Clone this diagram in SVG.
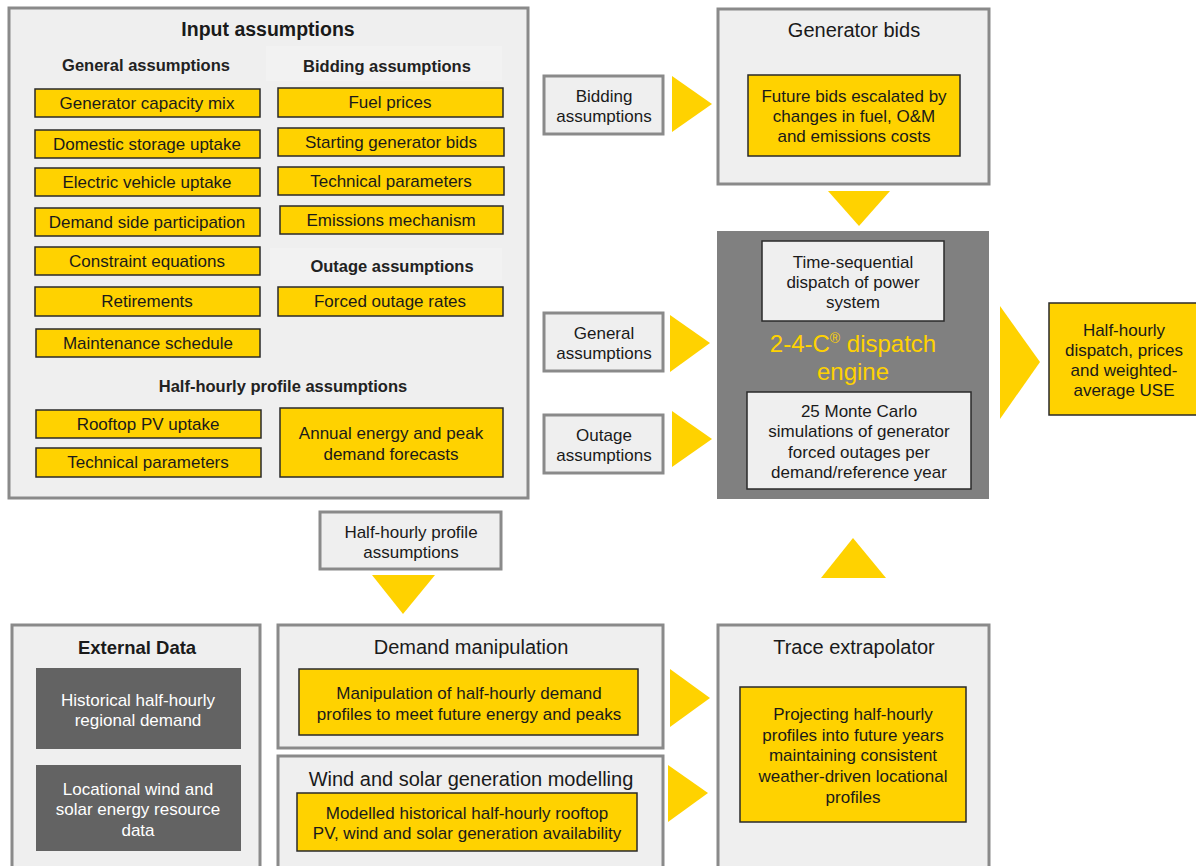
<svg xmlns="http://www.w3.org/2000/svg" width="1196" height="866" viewBox="0 0 1196 866">
<style>
.cont{fill:#efefef;stroke:#8a8a8a;stroke-width:3}
.small{fill:#efefef;stroke:#8a8a8a;stroke-width:3}
.yel{fill:#ffd200;stroke:#2a2a2a;stroke-width:1.5}
.inner{fill:#efefef;stroke:#2a2a2a;stroke-width:1.5}
.dark{fill:#636363}
.arr{fill:#ffd200}
text{font-family:"Liberation Sans",Arial,sans-serif;font-size:17px;fill:#1a1a1a;text-anchor:middle}
.t{font-size:20px}
.h{font-size:16.5px;font-weight:bold;fill:#222}
.ttl{font-size:19.5px;font-weight:bold}
.w{fill:#ffffff}
.eng{font-size:24px;fill:#ffd200}
</style>
<g id="input-assumptions">
<rect class="cont" x="9" y="8" width="519" height="490"/>
<rect x="266" y="46" width="236" height="35" fill="#f2f2f2"/>
<rect x="270" y="248" width="232" height="32" fill="#f2f2f2"/>
<text class="ttl" x="268" y="36">Input assumptions</text>
<text class="h" x="146" y="71">General assumptions</text>
<text class="h" x="387" y="72">Bidding assumptions</text>
<text class="h" x="392" y="272">Outage assumptions</text>
<text class="h" x="283" y="392">Half-hourly profile assumptions</text>
<g id="gen-cap"><rect class="yel" x="35" y="89" width="225" height="28"/><text x="147" y="109">Generator capacity mix</text></g>
<g id="dom-storage"><rect class="yel" x="35" y="130" width="225" height="28"/><text x="147" y="150">Domestic storage uptake</text></g>
<g id="ev"><rect class="yel" x="35" y="168" width="225" height="28"/><text x="147" y="188">Electric vehicle uptake</text></g>
<g id="dsp"><rect class="yel" x="35" y="208" width="225" height="28"/><text x="147" y="228">Demand side participation</text></g>
<g id="constraint"><rect class="yel" x="35" y="247" width="225" height="28"/><text x="147" y="267">Constraint equations</text></g>
<g id="retire"><rect class="yel" x="35" y="287" width="225" height="29"/><text x="147" y="307">Retirements</text></g>
<g id="maint"><rect class="yel" x="36" y="329" width="224" height="28"/><text x="148" y="349">Maintenance schedule</text></g>
<g id="fuel"><rect class="yel" x="278" y="88" width="225" height="29"/><text x="390" y="108">Fuel prices</text></g>
<g id="start-bids"><rect class="yel" x="278" y="128" width="226" height="28"/><text x="391" y="148">Starting generator bids</text></g>
<g id="tech1"><rect class="yel" x="278" y="167" width="226" height="28"/><text x="391" y="187">Technical parameters</text></g>
<g id="emis"><rect class="yel" x="280" y="206" width="223" height="28"/><text x="391" y="226">Emissions mechanism</text></g>
<g id="forced"><rect class="yel" x="278" y="287" width="225" height="29"/><text x="390" y="307">Forced outage rates</text></g>
<g id="rooftop"><rect class="yel" x="36" y="410" width="225" height="28"/><text x="148" y="430">Rooftop PV uptake</text></g>
<g id="tech2"><rect class="yel" x="36" y="448" width="225" height="29"/><text x="148" y="468">Technical parameters</text></g>
<g id="annual"><rect class="yel" x="280" y="408" width="223" height="69"/><text x="391" y="439">Annual energy and peak</text><text x="391" y="460">demand forecasts</text></g>
</g>
<g id="bidding-small"><rect class="small" x="544" y="76" width="119" height="58"/><text x="604" y="102">Bidding</text><text x="604" y="122">assumptions</text></g>
<g id="general-small"><rect class="small" x="544" y="313" width="119" height="58"/><text x="604" y="339">General</text><text x="604" y="359">assumptions</text></g>
<g id="outage-small"><rect class="small" x="544" y="415" width="119" height="58"/><text x="604" y="441">Outage</text><text x="604" y="461">assumptions</text></g>
<g id="generator-bids">
<rect class="cont" x="718" y="9" width="271" height="175"/>
<text class="t" x="854" y="37">Generator bids</text>
<rect class="yel" x="748" y="75" width="212" height="81"/>
<text x="854" y="102">Future bids escalated by</text><text x="854" y="122">changes in fuel, O&amp;M</text><text x="854" y="142">and emissions costs</text>
</g>
<g id="dispatch-engine">
<rect x="717" y="231" width="272" height="268" fill="#808080"/>
<rect class="inner" x="762" y="241" width="182" height="80"/>
<text x="853" y="268">Time-sequential</text><text x="853" y="288">dispatch of power</text><text x="853" y="308">system</text>
<text class="eng" x="853" y="352">2-4-C<tspan font-size="14" dy="-9">®</tspan><tspan dy="9"> dispatch</tspan></text>
<text class="eng" x="853" y="380">engine</text>
<rect class="inner" x="747" y="392" width="224" height="97"/>
<text x="859" y="417">25 Monte Carlo</text><text x="859" y="437">simulations of generator</text><text x="859" y="458">forced outages per</text><text x="859" y="478">demand/reference year</text>
</g>
<g id="output"><rect class="yel" x="1049" y="303" width="150" height="112"/><text x="1124" y="336">Half-hourly</text><text x="1124" y="356">dispatch, prices</text><text x="1124" y="376">and weighted-</text><text x="1124" y="396">average USE</text></g>
<g id="hh-small"><rect class="small" x="320" y="512" width="181" height="57"/><text x="411" y="538">Half-hourly profile</text><text x="411" y="558">assumptions</text></g>
<g id="external-data">
<rect class="cont" x="12" y="625" width="248" height="245"/>
<text class="ttl" x="137" y="654" style="font-size:18.5px">External Data</text>
<rect class="dark" x="36" y="668" width="205" height="81"/><text class="w" x="138" y="706">Historical half-hourly</text><text class="w" x="138" y="726">regional demand</text>
<rect class="dark" x="36" y="765" width="205" height="86"/><text class="w" x="138" y="795">Locational wind and</text><text class="w" x="138" y="815">solar energy resource</text><text class="w" x="138" y="836">data</text>
</g>
<g id="demand-manip">
<rect class="cont" x="278" y="625" width="385" height="123"/>
<text class="t" x="471" y="654">Demand manipulation</text>
<rect class="yel" x="299" y="669" width="339" height="66"/>
<text x="469" y="699">Manipulation of half-hourly demand</text><text x="469" y="720">profiles to meet future energy and peaks</text>
</g>
<g id="wind-solar">
<rect class="cont" x="278" y="756" width="385" height="114"/>
<text class="t" x="471" y="786">Wind and solar generation modelling</text>
<rect class="yel" x="297" y="793" width="340" height="58"/>
<text x="467" y="819">Modelled historical half-hourly rooftop</text><text x="467" y="839">PV, wind and solar generation availability</text>
</g>
<g id="trace">
<rect class="cont" x="718" y="625" width="271" height="245"/>
<text class="t" x="854" y="654">Trace extrapolator</text>
<rect class="yel" x="740" y="687" width="226" height="135"/>
<text x="853" y="720">Projecting half-hourly</text><text x="853" y="741">profiles into future years</text><text x="853" y="761">maintaining consistent</text><text x="853" y="782">weather-driven locational</text><text x="853" y="803">profiles</text>
</g>
<g id="connectors">
<polygon class="arr" points="672,76 712,104 672,132"/>
<polygon class="arr" points="828,191 890,191 859,226"/>
<polygon class="arr" points="670,315 710,343 670,372"/>
<polygon class="arr" points="672,411 712,439 672,467"/>
<polygon class="arr" points="1000,306 1040,362 1000,419"/>
<polygon class="arr" points="372,575 435,575 403,614"/>
<polygon class="arr" points="821,578 886,578 853,538"/>
<polygon class="arr" points="670,669 710,698 670,727"/>
<polygon class="arr" points="668,765 708,793 668,822"/>
</g>
</svg>
